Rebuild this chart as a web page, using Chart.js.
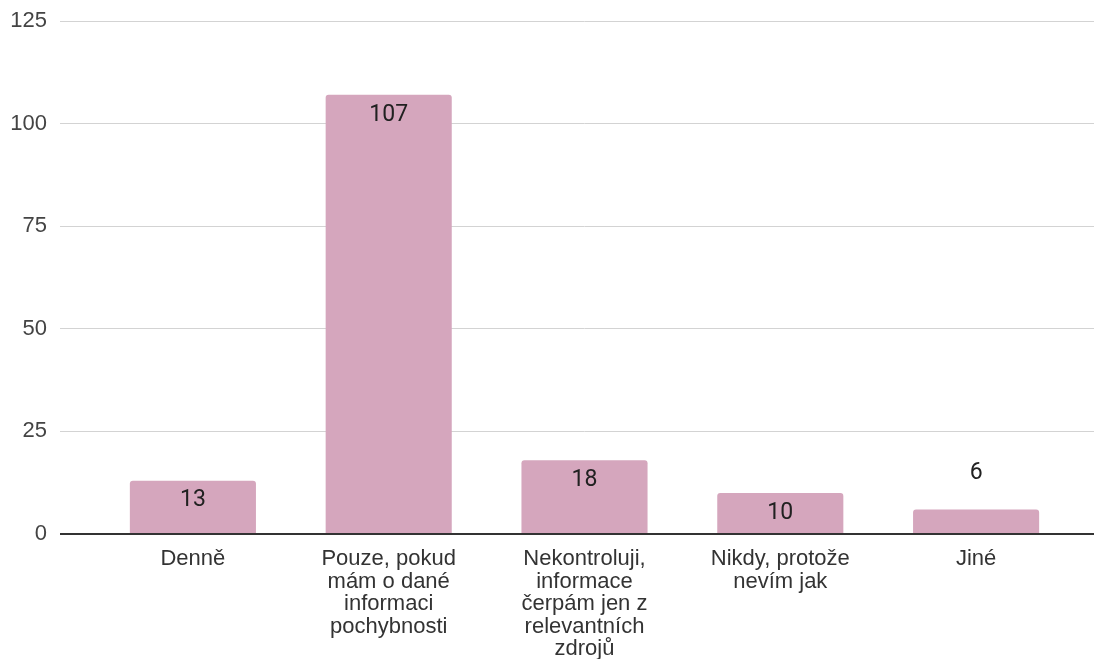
<!DOCTYPE html>
<html>
<head>
<meta charset="utf-8">
<script src="https://cdn.jsdelivr.net/npm/chart.js@4/dist/chart.umd.min.js"></script>
<style>
    body { margin: 0; background: #ffffff; }
</style>
</head>
<body>
<canvas id="answerChart" width="1094" height="659"></canvas>
<script>
const categories = [
    "Denně",
    ["Pouze, pokud", "mám o dané", "informaci", "pochybnosti"],
    ["Nekontroluji,", "informace", "čerpám jen z", "relevantních", "zdrojů"],
    ["Nikdy, protože", "nevím jak"],
    "Jiné"
];
const counts = [13, 107, 18, 10, 6];
const yTicks = [0, 25, 50, 75, 100, 125];

const barColor = "#d5a6bd";
const gridColor = (ctx) => (ctx.tick && ctx.tick.value === 0 ? "#333333" : "#d3d3d3");
const gridWidth = (ctx) => (ctx.tick && ctx.tick.value === 0 ? 2 : 1);

const barLabels = {
    id: "barLabels",
    afterDatasetsDraw(chart) {
        const ctx = chart.ctx;
        const meta = chart.getDatasetMeta(0);
        ctx.save();
        ctx.font = "23px Roboto";
        ctx.fillStyle = "#212121";
        ctx.textAlign = "center";
        ctx.textBaseline = "middle";
        meta.data.forEach((bar, i) => {
            const height = bar.base - bar.y;
            const y = height > 35 ? bar.y + 20 : bar.y - 36;
            ctx.fillText(String(counts[i]), bar.x, y);
        });
        ctx.restore();
    }
};

new Chart(document.getElementById("answerChart"), {
    type: "bar",
    data: {
        labels: categories,
        datasets: [
            {
                data: counts,
                backgroundColor: barColor,
                borderRadius: 3,
                borderSkipped: "bottom",
                barPercentage: 0.644,
                categoryPercentage: 1
            }
        ]
    },
    options: {
        responsive: false,
        animation: false,
        layout: {
            padding: { top: 21, left: 0, right: 0, bottom: 0 }
        },
        plugins: {
            legend: { display: false },
            tooltip: { enabled: false }
        },
        scales: {
            x: {
                grid: { display: false },
                border: { display: false },
                ticks: {
                    color: "#333333",
                    padding: 6,
                    maxRotation: 0,
                    autoSkip: false,
                    font: { family: "'Liberation Sans', Arial", size: 22, lineHeight: 1.02 }
                },
                afterFit(scale) {
                    scale.height = 125;
                    scale.paddingLeft = 0;
                    scale.paddingRight = 0;
                }
            },
            y: {
                min: 0,
                max: 125,
                afterBuildTicks(scale) {
                    scale.ticks = yTicks.map((v) => ({ value: v }));
                },
                grid: {
                    color: gridColor,
                    lineWidth: gridWidth,
                    tickLength: 35
                },
                border: { display: false },
                ticks: {
                    color: "#444444",
                    padding: 13,
                    font: { family: "'Liberation Sans', Arial", size: 22 }
                },
                afterFit(scale) {
                    scale.width = 95;
                    scale.paddingTop = 0;
                    scale.paddingBottom = 0;
                }
            },
            yRight: {
                position: "right",
                min: 0,
                max: 125,
                afterBuildTicks(scale) {
                    scale.ticks = yTicks.map((v) => ({ value: v }));
                },
                grid: {
                    color: gridColor,
                    lineWidth: gridWidth,
                    drawOnChartArea: false,
                    tickLength: 20
                },
                border: { display: false },
                ticks: { display: false },
                afterFit(scale) {
                    scale.width = 20;
                    scale.paddingTop = 0;
                    scale.paddingBottom = 0;
                }
            }
        }
    },
    plugins: [barLabels]
});
</script>
</body>
</html>
